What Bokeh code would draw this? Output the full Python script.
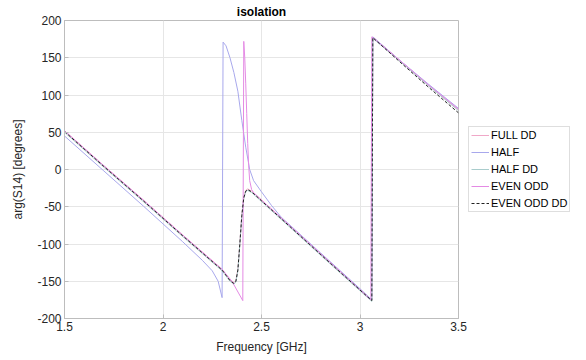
from bokeh.plotting import figure
from bokeh.models import Legend, LegendItem, FixedTicker
from bokeh.embed import file_html
from bokeh.resources import INLINE

# ---- data ----
freq_dd = [1.5, 1.7, 1.9, 2.1, 2.3, 2.32, 2.34, 2.36, 2.37, 2.38, 2.39, 2.40, 2.41, 2.42,
           2.43, 2.45, 2.5, 2.7, 2.9, 3.06, 3.065, 3.2, 3.35, 3.5]
full_dd = [52, 5, -41, -88, -134, -141, -148, -152, -149, -134, -99, -61, -37, -28,
           -26, -29, -41, -89, -137, -175, 178, 147, 113, 80]
half_dd = [50, 3, -43, -90, -136, -143, -150, -154, -151, -136, -101, -63, -39, -30,
           -28, -31, -43, -91, -139, -177, 176, 146, 112, 79]
even_odd_dd = [51, 4, -42, -89, -135, -142, -149, -153, -150, -135, -100, -62, -38, -29,
               -27, -30, -42, -90, -138, -176, 177, 145, 110, 76]

freq_half = [1.5, 1.7, 1.9, 2.0, 2.1, 2.2, 2.25, 2.28, 2.3, 2.305, 2.32, 2.34, 2.36, 2.38,
             2.40, 2.42, 2.44, 2.46, 2.5, 2.55, 2.6, 2.8, 3.0, 3.06, 3.065, 3.2, 3.35, 3.5]
half = [45, -2, -49, -73, -97, -122, -136, -150, -172, 171, 166, 150, 130, 105,
        66, 30, 0, -15, -30, -48, -64, -112, -160, -175, 178, 147, 114, 82]

freq_eo = [1.5, 1.7, 1.9, 2.1, 2.3, 2.35, 2.405, 2.41, 2.415, 2.42, 2.425, 2.43, 2.435,
           2.44, 2.45, 2.46, 2.5, 2.7, 2.9, 3.055, 3.06, 3.2, 3.35, 3.5]
even_odd = [52, 5, -41, -88, -134, -150, -176, 172, 150, 115, 75, 35, 5,
            -15, -27, -31, -41, -89, -137, -175, 178, 147, 113, 81]

x_ticks = [1.5, 2, 2.5, 3, 3.5]
x_tick_labels = ["1.5", "2", "2.5", "3", "3.5"]
y_ticks = [-200, -150, -100, -50, 0, 50, 100, 150, 200]
y_tick_labels = ["-200", "-150", "-100", "-50", "0", "50", "100", "150", "200"]

FONT = "Liberation Sans"

p = figure(frame_width=394, frame_height=298, output_backend="svg", toolbar_location=None,
           x_range=(1.5, 3.5), y_range=(-200, 200),
           min_border_left=64, min_border_right=0, min_border_top=4, min_border_bottom=4,
           title="isolation")
p.title.align = "center"
p.title.text_font = FONT
p.title.text_font_size = "12px"
p.title.text_font_style = "bold"
p.title.text_color = "#000000"
p.title.offset = 0
p.title.standoff = 4

p.outline_line_color = "#bdbdbd"
p.outline_line_width = 1
p.background_fill_color = "white"
p.border_fill_color = "white"

for ax in (p.xaxis[0], p.yaxis[0]):
    ax.axis_line_color = "#bdbdbd"
    ax.major_tick_line_color = "#bdbdbd"
    ax.major_tick_in = 4
    ax.major_tick_out = 0
    ax.minor_tick_line_color = None
    ax.major_label_text_font = FONT
    ax.major_label_text_font_size = "12px"
    ax.major_label_text_color = "#262626"
    ax.axis_label_text_font = FONT
    ax.axis_label_text_font_size = "12px"
    ax.axis_label_text_font_style = "normal"
    ax.axis_label_text_color = "#262626"

p.xaxis.ticker = FixedTicker(ticks=x_ticks)
p.xaxis.major_label_overrides = dict(zip(x_ticks, x_tick_labels))
p.yaxis.ticker = FixedTicker(ticks=y_ticks)
p.yaxis.major_label_overrides = dict(zip(y_ticks, y_tick_labels))
p.xaxis.axis_label = "Frequency [GHz]"
p.yaxis.axis_label = "arg(S14) [degrees]"
p.xaxis.major_label_standoff = 3
p.xaxis.axis_label_standoff = 6
p.yaxis.major_label_standoff = 3
p.yaxis.axis_label_standoff = 9

p.grid.grid_line_color = "#e6e6e6"
p.grid.grid_line_width = 1

r1 = p.line(freq_dd, full_dd, line_color="#f0a8c8", line_width=1)
r2 = p.line(freq_half, half, line_color="#a8a8ec", line_width=1)
r3 = p.line(freq_dd, half_dd, line_color="#a9cccc", line_width=1)
r4 = p.line(freq_eo, even_odd, line_color="#e48ae4", line_width=1)
r5 = p.line(freq_dd, even_odd_dd, line_color="#222222", line_width=1, line_dash="3 2")

legend = Legend(items=[
    LegendItem(label="FULL DD", renderers=[r1]),
    LegendItem(label="HALF", renderers=[r2]),
    LegendItem(label="HALF DD", renderers=[r3]),
    LegendItem(label="EVEN ODD", renderers=[r4]),
    LegendItem(label="EVEN ODD DD", renderers=[r5]),
])
legend.label_text_font = FONT
legend.label_text_font_size = "11px"
legend.label_text_color = "#000000"
legend.glyph_width = 18
legend.glyph_height = 12
legend.label_height = 12
legend.spacing = 5
legend.padding = 2
legend.margin = 10
legend.label_standoff = 2
legend.border_line_color = "#bdbdbd"
legend.background_fill_color = "white"
legend.location = "center_left"
p.add_layout(legend, "right")

open("out.html", "w").write(file_html(p, INLINE))
